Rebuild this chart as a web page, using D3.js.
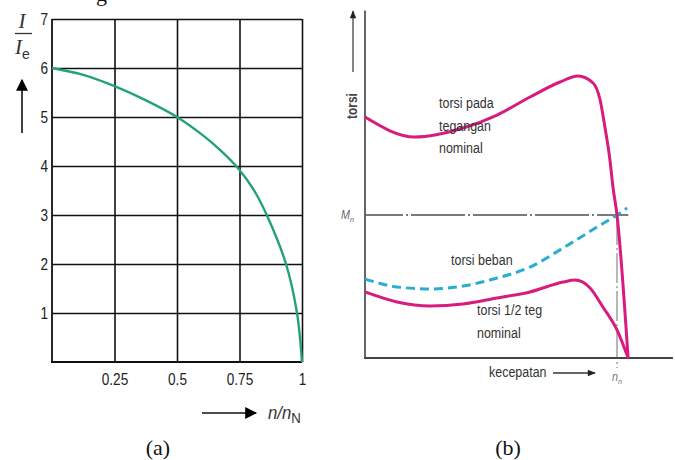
<!DOCTYPE html>
<html>
<head>
<meta charset="utf-8">
<script src="https://cdn.jsdelivr.net/npm/d3@7"></script>
<style>
  html, body { margin: 0; padding: 0; background: #fff; }
  svg { display: block; }
  .sans { font-family: "Liberation Sans", Arial, sans-serif; }
  .serif { font-family: "Liberation Serif", "Times New Roman", serif; }
</style>
</head>
<body>
<svg id="chart" width="675" height="460"></svg>
<script>
/* global d3 */

// (a) current ratio vs speed ratio
const speedRatio = [0, 0.125, 0.25, 0.38, 0.5, 0.605, 0.672, 0.745, 0.805, 0.859, 0.936, 0.98, 1];
const currentRatio = [6, 5.86, 5.63, 5.33, 5.0, 4.62, 4.33, 3.95, 3.53, 3.0, 2, 1, 0];
const xTicksA = [0.25, 0.5, 0.75, 1];
const yTicksA = [1, 2, 3, 4, 5, 6, 7];

// (b) torque vs speed (speed in units of n_n, torque in units of M_n)
const speedNominal = [0, 0.198, 0.389, 0.524, 0.655, 0.774, 0.845, 0.905, 0.933, 0.952, 0.972, 0.984, 1.0, 1.044];
const torqueNominal = [1.685, 1.545, 1.608, 1.699, 1.825, 1.93, 1.972, 1.923, 1.804, 1.615, 1.385, 1.196, 1.0, 0];
const speedLoad = [0, 0.127, 0.258, 0.389, 0.524, 0.655, 0.786, 0.921, 1.0, 1.04];
const torqueLoad = [0.552, 0.497, 0.483, 0.503, 0.559, 0.636, 0.769, 0.916, 1.0, 1.049];
const speedHalf = [0, 0.127, 0.258, 0.389, 0.524, 0.655, 0.786, 0.833, 0.893, 0.944, 1.0, 1.044];
const torqueHalf = [0.462, 0.392, 0.364, 0.378, 0.420, 0.462, 0.531, 0.545, 0.490, 0.357, 0.196, 0];

const svg = d3.select('#chart');

const defs = svg.append('defs');
defs.append('marker')
  .attr('id', 'head')
  .attr('viewBox', '0 0 10 10')
  .attr('refX', 9).attr('refY', 5)
  .attr('markerWidth', 10).attr('markerHeight', 8)
  .attr('markerUnits', 'userSpaceOnUse')
  .attr('orient', 'auto')
  .append('path').attr('d', 'M0,1L10,5L0,9Z').attr('fill', '#222');
defs.append('marker')
  .attr('id', 'headBig')
  .attr('viewBox', '0 0 10 10')
  .attr('refX', 9).attr('refY', 5)
  .attr('markerWidth', 14).attr('markerHeight', 12)
  .attr('markerUnits', 'userSpaceOnUse')
  .attr('orient', 'auto')
  .append('path').attr('d', 'M0,0L10,5L0,10Z').attr('fill', '#000');

// condensed sans text: squeeze Liberation Sans horizontally
function narrowText(parent, x, y, str, size, sx, fill) {
  return parent.append('text')
    .attr('class', 'sans')
    .attr('transform', `translate(${x},${y}) scale(${sx},1)`)
    .attr('font-size', size)
    .attr('fill', fill || '#333')
    .text(str);
}

// clipped fragment of the caption line above
svg.append('text').attr('class', 'serif')
  .attr('x', 96).attr('y', 1)
  .attr('font-size', 22).attr('fill', '#111')
  .text('g');

// ---------------- (a) ----------------
const xA = d3.scaleLinear().domain([0, 1]).range([52, 302]);
const yA = d3.scaleLinear().domain([0, 7]).range([362, 19]);

const gA = svg.append('g');

gA.append('g')
  .attr('transform', `translate(0,${yA(0)})`)
  .call(d3.axisBottom(xA).tickValues(xTicksA).tickSize(-(yA(0) - yA(7))).tickPadding(11).tickFormat(d3.format('')))
  .call((g) => {
    g.select('.domain').remove();
    g.selectAll('line').attr('stroke', '#111').attr('stroke-width', 1.6);
    g.selectAll('text').attr('class', 'sans').attr('font-size', 17).attr('fill', '#222')
      .attr('font-family', null)
      .attr('transform', 'scale(0.8,1)');
  });

gA.append('g')
  .attr('transform', `translate(${xA(0)},0)`)
  .call(d3.axisLeft(yA).tickValues(yTicksA).tickSize(-(xA(1) - xA(0))).tickPadding(5).tickFormat(d3.format('d')))
  .call((g) => {
    g.select('.domain').remove();
    g.selectAll('line').attr('stroke', '#111').attr('stroke-width', 1.6);
    g.selectAll('text').attr('class', 'sans').attr('font-size', 17).attr('fill', '#222')
      .attr('font-family', null)
      .attr('transform', 'scale(0.8,1)');
  });

gA.append('line')
  .attr('x1', xA(0)).attr('x2', xA(0)).attr('y1', yA(0)).attr('y2', yA(7))
  .attr('stroke', '#111').attr('stroke-width', 1.8);
gA.append('line')
  .attr('x1', xA(0) - 1).attr('x2', xA(1)).attr('y1', yA(0)).attr('y2', yA(0))
  .attr('stroke', '#111').attr('stroke-width', 2.2);

gA.append('path')
  .datum(speedRatio.map((s, i) => [s, currentRatio[i]]))
  .attr('fill', 'none')
  .attr('stroke', '#23a374')
  .attr('stroke-width', 2.4)
  .attr('d', d3.line().x((d) => xA(d[0])).y((d) => yA(d[1])).curve(d3.curveCatmullRom.alpha(0.5)));

// y label I / I_e with upward arrow
gA.append('text').attr('class', 'serif')
  .attr('x', 22).attr('y', 28).attr('text-anchor', 'middle')
  .attr('font-size', 21).attr('font-style', 'italic').attr('fill', '#333')
  .text('I');
gA.append('line').attr('x1', 15).attr('x2', 32).attr('y1', 33.5).attr('y2', 33.5)
  .attr('stroke', '#333').attr('stroke-width', 1.3);
const ie = gA.append('text').attr('class', 'serif')
  .attr('x', 15).attr('y', 54)
  .attr('font-size', 21).attr('font-style', 'italic').attr('fill', '#333');
ie.append('tspan').text('I');
ie.append('tspan').attr('class', 'sans').attr('font-style', 'normal')
  .attr('font-size', 14).attr('dy', 5).text('e');
gA.append('line').attr('x1', 22).attr('x2', 22).attr('y1', 133).attr('y2', 80)
  .attr('stroke', '#111').attr('stroke-width', 1.6)
  .attr('marker-end', 'url(#headBig)');

// x label arrow and n/n_N
gA.append('line').attr('x1', 202).attr('x2', 256).attr('y1', 413).attr('y2', 413)
  .attr('stroke', '#111').attr('stroke-width', 1.6)
  .attr('marker-end', 'url(#headBig)');
const nl = narrowText(gA, 268, 419, '', 19, 0.88, '#333');
nl.append('tspan').attr('font-style', 'italic').text('n/n');
nl.append('tspan').attr('font-size', 15).attr('dy', 4).text('N');

gA.append('text').attr('class', 'serif')
  .attr('x', 158).attr('y', 455).attr('text-anchor', 'middle')
  .attr('font-size', 22).attr('fill', '#111')
  .text('(a)');

// ---------------- (b) ----------------
const xB = d3.scaleLinear().domain([0, 1]).range([365, 617]);
const yB = d3.scaleLinear().domain([0, 1]).range([358, 215]);

const gB = svg.append('g');

// reference lines at M_n and n_n
gB.append('line')
  .attr('x1', xB(0)).attr('x2', xB(1.045)).attr('y1', yB(1)).attr('y2', yB(1))
  .attr('stroke', '#7a7a7a').attr('stroke-width', 1.8)
  .attr('stroke-dasharray', '54,3,2,3')
  .attr('stroke-dashoffset', 16);
gB.append('line')
  .attr('x1', xB(1)).attr('x2', xB(1)).attr('y1', yB(1)).attr('y2', yB(0) + 10)
  .attr('stroke', '#9a9a9a').attr('stroke-width', 1.4)
  .attr('stroke-dasharray', '30,3,2,3');

// axes
gB.append('line')
  .attr('x1', xB(0)).attr('x2', xB(0)).attr('y1', yB(0) + 1).attr('y2', yB(2.43))
  .attr('stroke', '#555').attr('stroke-width', 1.8);
gB.append('line')
  .attr('x1', xB(0) - 1).attr('x2', xB(1.222)).attr('y1', yB(0)).attr('y2', yB(0))
  .attr('stroke', '#444').attr('stroke-width', 2.2);

const lineB = d3.line().x((d) => xB(d[0])).y((d) => yB(d[1])).curve(d3.curveMonotoneX);

gB.append('path')
  .datum(speedLoad.map((s, i) => [s, torqueLoad[i]]))
  .attr('fill', 'none').attr('stroke', '#2aaed0')
  .attr('stroke-width', 3).attr('stroke-dasharray', '9,5')
  .attr('d', lineB);

gB.append('path')
  .datum(speedHalf.map((s, i) => [s, torqueHalf[i]]))
  .attr('fill', 'none').attr('stroke', '#d81b7e')
  .attr('stroke-width', 3).attr('stroke-linejoin', 'round')
  .attr('d', lineB);

gB.append('path')
  .datum(speedNominal.map((s, i) => [s, torqueNominal[i]]))
  .attr('fill', 'none').attr('stroke', '#d81b7e')
  .attr('stroke-width', 3).attr('stroke-linejoin', 'round')
  .attr('d', lineB);

// y label "torsi" with arrow
gB.append('text').attr('class', 'sans')
  .attr('transform', 'translate(357,106) rotate(-90) scale(0.85,1)')
  .attr('text-anchor', 'middle')
  .attr('font-size', 14).attr('font-weight', 'bold').attr('fill', '#444')
  .text('torsi');
gB.append('line').attr('x1', 353).attr('x2', 353).attr('y1', 72).attr('y2', 11)
  .attr('stroke', '#444').attr('stroke-width', 1.3)
  .attr('marker-end', 'url(#head)');

// M_n and n_n
const mn = narrowText(gB, 341, 219, '', 12, 0.9, '#666').attr('font-style', 'italic');
mn.append('tspan').text('M');
mn.append('tspan').attr('font-size', 8).attr('dy', 3).text('n');
const nn = narrowText(gB, xB(1) - 5, 381, '', 12, 0.9, '#777').attr('font-style', 'italic');
nn.append('tspan').text('n');
nn.append('tspan').attr('font-size', 8).attr('dy', 3).text('n');

// x label
narrowText(gB, 489, 377, 'kecepatan', 14.5, 0.86, '#333');
gB.append('line').attr('x1', 553).attr('x2', 595).attr('y1', 373).attr('y2', 373)
  .attr('stroke', '#333').attr('stroke-width', 1.3)
  .attr('marker-end', 'url(#head)');

// curve annotations
const notes = [
  { x: 439, y: 108, t: 'torsi pada' },
  { x: 439, y: 131, t: 'tegangan' },
  { x: 439, y: 153, t: 'nominal' },
  { x: 451, y: 265, t: 'torsi beban' },
  { x: 477, y: 315, t: 'torsi 1/2 teg' },
  { x: 477, y: 338, t: 'nominal' }
];
notes.forEach((d) => narrowText(gB, d.x, d.y, d.t, 14.5, 0.86, '#333'));

gB.append('text').attr('class', 'serif')
  .attr('x', 508).attr('y', 455).attr('text-anchor', 'middle')
  .attr('font-size', 22).attr('fill', '#111')
  .text('(b)');
</script>
</body>
</html>
